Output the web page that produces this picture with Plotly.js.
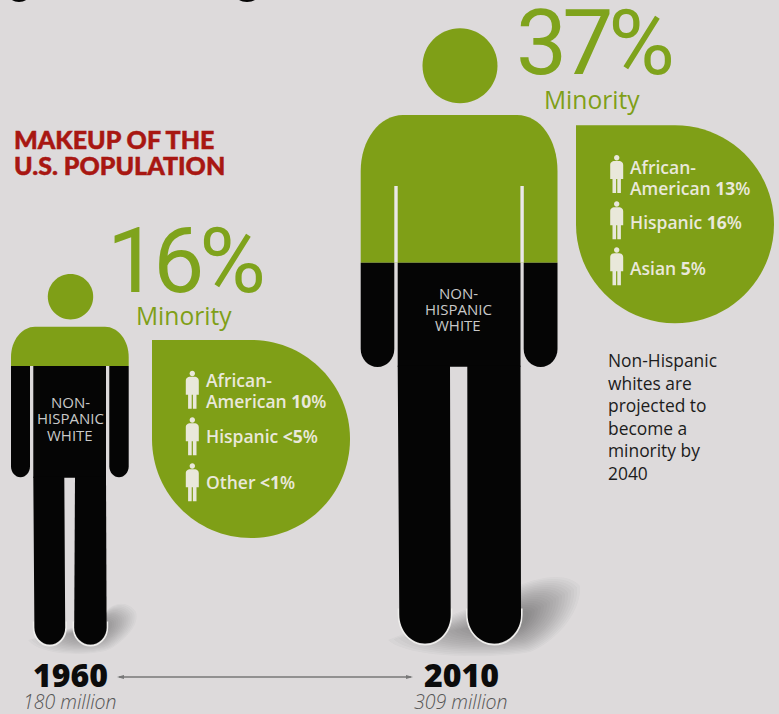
<!DOCTYPE html>
<html>
<head>
<meta charset="utf-8">
<script src="https://cdn.plot.ly/plotly-3.0.1.min.js"></script>
<style>
  html, body { margin: 0; padding: 0; background: #dddadb; }
  #chart { width: 779px; height: 714px; }
</style>
</head>
<body>
<div id="chart"></div>
<script>
// Census snapshots
const years = ["1960", "2010"];
const populationMillions = [180, 309];
const minorityShare = [16, 37];
const groups1960 = ["African-<br>American", "Hispanic", "Other"];
const shares1960 = ["10", "<5", "<1"];
const groups2010 = ["African-<br>American", "Hispanic", "Asian"];
const shares2010 = ["13", "16", "5"];
const noteLines = ["Non-Hispanic", "whites are", "projected to", "become a", "minority by", "2040"];
const majorityLabel = ["NON-", "HISPANIC", "WHITE"];
const headingLines = ["MAKEUP OF THE", "U.S. POPULATION"];

const GREEN = "#7f9f17", BLACK = "#050505", PAPER = "#dddadb", PALE = "#e9e8da", GAP = "#ebe8e7";
const K = 0.5523;
const shapes = [], annotations = [];

function fillPath(path, color, opacity) {
  shapes.push({type: "path", xref: "x", yref: "y", path, fillcolor: color,
               opacity: opacity === undefined ? 1 : opacity, line: {width: 0}});
}
function strokePath(path, color, width) {
  shapes.push({type: "path", xref: "x", yref: "y", path, line: {color, width}});
}
function circlePath(cx, cy, r) {
  const k = r * K;
  return `M${cx - r},${cy} C${cx - r},${cy - k} ${cx - k},${cy - r} ${cx},${cy - r} ` +
         `C${cx + k},${cy - r} ${cx + r},${cy - k} ${cx + r},${cy} ` +
         `C${cx + r},${cy + k} ${cx + k},${cy + r} ${cx},${cy + r} ` +
         `C${cx - k},${cy + r} ${cx - r},${cy + k} ${cx - r},${cy} Z`;
}
// Rounded-bottom limb; the top edge may be a little wider than the foot
function limbPath(x0, x1, yTop, yBottom, ry, topX0, topX1) {
  const mid = (x0 + x1) / 2, rx = (x1 - x0) / 2, kx = rx * K, ky = ry * K, ys = yBottom - ry;
  const a = topX0 === undefined ? x0 : topX0, b = topX1 === undefined ? x1 : topX1;
  return `M${a},${yTop} L${b},${yTop} L${x1},${ys} ` +
         `C${x1},${ys + ky} ${mid + kx},${yBottom} ${mid},${yBottom} ` +
         `C${mid - kx},${yBottom} ${x0},${ys + ky} ${x0},${ys} Z`;
}
function footHalo(x0, x1, yTop, yBottom, ry) {
  const mid = (x0 + x1) / 2, rx = (x1 - x0) / 2, kx = rx * K, ky = ry * K, ys = yBottom - ry;
  return `M${x0},${yTop} L${x0},${ys} C${x0},${ys + ky} ${mid - kx},${yBottom} ${mid},${yBottom} ` +
         `C${mid + kx},${yBottom} ${x1},${ys + ky} ${x1},${ys} L${x1},${yTop}`;
}
// Soft cast shadow built from nested translucent blobs
function castShadow(pts, cx, cy, layers, alpha) {
  for (let i = 0; i < layers; i++) {
    const s = 1 - i * (0.8 / layers);
    const p = pts.map(([x, y]) => `${(cx + (x - cx) * s).toFixed(1)},${(cy + (y - cy) * s).toFixed(1)}`);
    let d = `M${p[0]} `;
    for (let j = 1; j + 2 < p.length; j += 3) d += `C${p[j]} ${p[j + 1]} ${p[j + 2]} `;
    fillPath(d + "Z", "#303030", alpha);
  }
}
function person(g) {
  fillPath(circlePath(g.cx, g.headY, g.headR), GREEN);
  // shoulders down to the split between the two colours
  fillPath(`M${g.l},${g.split} L${g.l},${g.shoulderY} ` +
           `C${g.l},${g.shoulderY - g.ry * K} ${g.topL - g.rx * K},${g.top} ${g.topL},${g.top} ` +
           `L${g.topR},${g.top} ` +
           `C${g.topR + g.rx * K},${g.top} ${g.r},${g.shoulderY - g.ry * K} ${g.r},${g.shoulderY} ` +
           `L${g.r},${g.split} Z`, GREEN);
  // black lower section: arms, torso, legs
  fillPath(limbPath(g.l, g.armInL, g.split, g.armEnd, g.armRy), BLACK);
  fillPath(limbPath(g.armInR, g.r, g.split, g.armEnd, g.armRy), BLACK);
  fillPath(`M${g.torsoL},${g.split} L${g.torsoR},${g.split} L${g.torsoR},${g.crotch + 1} L${g.torsoL},${g.crotch + 1} Z`, BLACK);
  g.feet.forEach((leg, i) => {
    strokePath(footHalo(leg[0] - 0.8, leg[1] + 0.8, g.foot - g.footRy - 6, g.foot + 1.2, g.footRy + 1), "#efeeec", 1.6);
    fillPath(limbPath(leg[0], leg[1], g.crotch, g.foot, g.footRy, g.hips[i][0], g.hips[i][1]), BLACK);
  });
  // pale slits that separate arms from torso inside the green part
  if (g.gapTop < g.split) {
    [(g.armInL + g.torsoL) / 2, (g.armInR + g.torsoR) / 2].forEach(x => {
      shapes.push({type: "line", xref: "x", yref: "y", x0: x, x1: x, y0: g.gapTop, y1: g.split,
                   line: {color: GAP, width: g.torsoL - g.armInL}});
    });
  }
}
function teardrop(x, y, r) {
  const k = r * K, cx = x + r, cy = y + r;
  fillPath(`M${x},${y} L${cx},${y} C${cx + k},${y} ${cx + r},${cy - k} ${cx + r},${cy} ` +
           `C${cx + r},${cy + k} ${cx + k},${cy + r} ${cx},${cy + r} ` +
           `C${cx - k},${cy + r} ${x},${cy + k} ${x},${cy} Z`, GREEN);
}
function tinyPerson(cx, headY) {
  fillPath(circlePath(cx, headY, 2.7), PALE);
  const t = headY + 3.2;
  fillPath(`M${cx - 6.5},${t + 18} L${cx - 6.5},${t + 4} C${cx - 6.5},${t + 1} ${cx - 4},${t} ${cx - 2.5},${t} ` +
           `L${cx + 2.5},${t} C${cx + 4},${t} ${cx + 6.5},${t + 1} ${cx + 6.5},${t + 4} L${cx + 6.5},${t + 18} ` +
           `L${cx + 4.2},${t + 18} L${cx + 4.2},${t + 32} L${cx + 0.6},${t + 32} L${cx + 0.6},${t + 18} ` +
           `L${cx - 0.6},${t + 18} L${cx - 0.6},${t + 32} L${cx - 4.2},${t + 32} L${cx - 4.2},${t + 18} Z`, PALE);
}
function label(text, x, y, size, color, opt) {
  opt = opt || {};
  annotations.push({
    text, x, y, xref: "x", yref: "y", showarrow: false, borderpad: 0, borderwidth: 0,
    xanchor: opt.anchor || "left", yanchor: "middle", align: opt.anchor === "center" ? "center" : "left",
    captureevents: false,
    font: {family: opt.family || "'Open Sans', sans-serif", size, color,
           weight: opt.weight || 400, style: opt.style || "normal"}
  });
}

// Descender tips of the headline running above the crop
fillPath("M10,-2 L28,-2 C25,3.2 13,3.2 10,-2 Z", BLACK);
fillPath("M237,-2 L257,-2 C254,3.2 240,3.2 237,-2 Z", BLACK);

// Shadows under the feet
castShadow([[28,640],[42,658],[100,656],[112,648],[124,640],[140,626],[136,612],[128,600],[110,600],[100,620],[60,620],[28,640]],
           96, 630, 16, 0.026);
castShadow([[388,640],[410,660],[500,658],[530,652],[556,642],[582,612],[580,586],[566,570],[530,576],[490,600],[420,610],[388,640]],
           512, 622, 18, 0.028);

const figures = [
  {cx: 70.5, headY: 296.7, headR: 22.7, top: 326.7, l: 11, r: 128.7, topL: 35, topR: 105, rx: 24, ry: 30,
   shoulderY: 357, split: 366, gapTop: 366, armInL: 30, armInR: 109.3, torsoL: 33.3, torsoR: 106,
   armEnd: 477.3, armRy: 11, crotch: 476.7, foot: 644.5, footRy: 17,
   hips: [[33.3, 64.3], [75, 106]], feet: [[34.4, 65.2], [74.2, 106.6]]},
  {cx: 460, headY: 65.7, headR: 37.5, top: 115, l: 360.7, r: 557.5, topL: 403, topR: 517, rx: 43, ry: 56,
   shoulderY: 171, split: 262.7, gapTop: 186, armInL: 394.3, armInR: 523.7, torsoL: 397.7, torsoR: 520.5,
   armEnd: 367, armRy: 18, crotch: 365.7, foot: 643.5, footRy: 29,
   hips: [[397.7, 450], [467.3, 520.5]], feet: [[399.3, 450.7], [467.6, 521]]}
];
figures.forEach(person);

teardrop(152, 340, 99);
teardrop(576, 125.3, 99);

// Minority headline for each year
label(minorityShare[0] + "%", 107, 261, 91, "#7fa31c", {family: "Roboto, sans-serif"});
label(minorityShare[1] + "%", 516, 43, 91, "#7fa31c", {family: "Roboto, sans-serif"});
label("Minority", 136, 315, 24.6, GREEN);
label("Minority", 544, 99, 24.6, GREEN);

// Breakdown rows inside the drops
function breakdown(names, vals, iconX, textX, headYs, textYs) {
  names.forEach((n, i) => {
    tinyPerson(iconX, headYs[i]);
    const lines = n.split("<br>");
    lines.forEach((line, j) => {
      const last = j === lines.length - 1;
      const y = textYs[i] - (lines.length - 1 - j) * 20.7;
      label(last ? `${line} <b>${vals[i]}</b>%` : line, textX, y, 17.5, PALE, {weight: 600});
    });
  });
}
breakdown(groups1960, shares1960, 192.3, 206, [373.5, 420, 466], [400.5, 436, 482]);
breakdown(groups2010, shares2010, 616.7, 630, [157.7, 204, 250], [188, 222, 268]);

// Majority label inside each torso
majorityLabel.forEach((t, i) => {
  label(t, 70, 402 + i * 16.3, 15, "#c9c9c9", {anchor: "center"});
  label(t, 458, 293 + i * 16, 15, "#c9c9c9", {anchor: "center"});
});

label(headingLines[0], 14, 139, 25, "#a81712", {weight: 900, family: "Lato, sans-serif"});
label(headingLines[1], 14, 165, 25, "#a81712", {weight: 900, family: "Lato, sans-serif"});

label(noteLines.join("<br>"), 608, 416.5, 17.4, "#1c1c1c");

// Timeline along the bottom
label(years[0], 70.5, 674, 32, "#0c0c0c", {anchor: "center", weight: 800});
label(years[1], 461, 674, 32, "#0c0c0c", {anchor: "center", weight: 800});
label(populationMillions[0] + " million", 70, 701.5, 19.5, "#555", {anchor: "center", style: "italic", weight: 300});
label(populationMillions[1] + " million", 461, 701.5, 19.5, "#555", {anchor: "center", style: "italic", weight: 300});
shapes.push({type: "line", xref: "x", yref: "y", x0: 119, x1: 411, y0: 677, y1: 677, line: {color: "#777", width: 1.5}});
fillPath("M117,677 L124,675 L124,679 Z", "#777");
fillPath("M413,677 L406,675 L406,679 Z", "#777");

Plotly.newPlot("chart", [], {
  width: 779, height: 714,
  margin: {l: 0, r: 0, t: 0, b: 0},
  paper_bgcolor: PAPER, plot_bgcolor: PAPER,
  showlegend: false,
  xaxis: {range: [0, 779], visible: false, fixedrange: true},
  yaxis: {range: [714, 0], visible: false, fixedrange: true},
  shapes, annotations
}, {displayModeBar: false, staticPlot: true}).then(() => {
  // Tighten tracking of the large percentages and thicken the red heading
  document.querySelectorAll(".annotation-text").forEach(t => {
    if (/^\d+%$/.test(t.textContent)) t.style.letterSpacing = "-5px";
    if (headingLines.includes(t.textContent)) {
      t.style.stroke = "#a81712";
      t.style.strokeWidth = "0.5px";
    }
  });
});
</script>
</body>
</html>
